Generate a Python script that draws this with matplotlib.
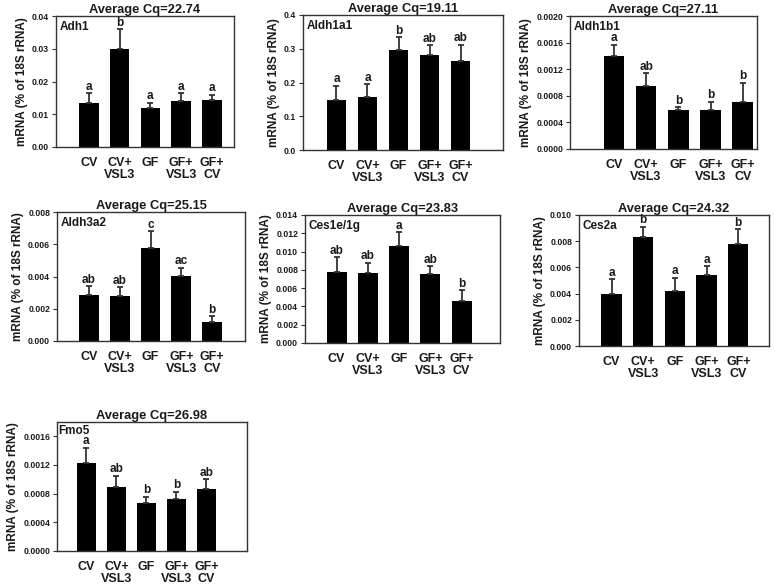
import matplotlib.pyplot as plt
import numpy as np

plt.rcParams['font.family'] = ['Liberation Sans', 'DejaVu Sans']
plt.rcParams['font.weight'] = 'bold'
plt.rcParams['axes.titleweight'] = 'bold'
plt.rcParams['axes.labelweight'] = 'bold'

# --- Datos ---
grupos = ["CV", "CV+\nVSL3", "GF", "GF+\nVSL3", "GF+\nCV"]

genes = ["Adh1", "Aldh1a1", "Aldh1b1", "Aldh3a2", "Ces1e/1g", "Ces2a", "Fmo5"]
cq = ["22.74", "19.11", "27.11", "25.15", "23.83", "24.32", "26.98"]

adh1 = [0.0135, 0.0298, 0.0120, 0.0140, 0.0145]
adh1_err = [0.0029, 0.0062, 0.0015, 0.0025, 0.0015]
aldh1a1 = [0.148, 0.158, 0.297, 0.280, 0.265]
aldh1a1_err = [0.042, 0.037, 0.038, 0.030, 0.047]
aldh1b1 = [0.00140, 0.00094, 0.00058, 0.00059, 0.00070]
aldh1b1_err = [0.00017, 0.00020, 0.00005, 0.00012, 0.00030]
aldh3a2 = [0.00285, 0.00282, 0.00575, 0.00404, 0.00118]
aldh3a2_err = [0.00055, 0.00050, 0.00105, 0.00050, 0.00035]
ces1e = [0.0078, 0.0077, 0.0106, 0.0075, 0.0046]
ces1e_err = [0.0016, 0.0011, 0.0015, 0.0009, 0.0012]
ces2a = [0.0040, 0.0083, 0.0042, 0.0054, 0.0078]
ces2a_err = [0.0011, 0.0008, 0.0010, 0.0007, 0.0011]
fmo5 = [0.00123, 0.00090, 0.00067, 0.00072, 0.00086]
fmo5_err = [0.00021, 0.00015, 0.00009, 0.00011, 0.00014]

letras = [
    ["a", "b", "a", "a", "a"],
    ["a", "a", "b", "ab", "ab"],
    ["a", "ab", "b", "b", "b"],
    ["ab", "ab", "c", "ac", "b"],
    ["ab", "ab", "a", "ab", "b"],
    ["a", "b", "a", "a", "b"],
    ["a", "ab", "b", "b", "ab"],
]

valores = [adh1, aldh1a1, aldh1b1, aldh3a2, ces1e, ces2a, fmo5]
errores = [adh1_err, aldh1a1_err, aldh1b1_err, aldh3a2_err, ces1e_err, ces2a_err, fmo5_err]

# ejes: limite superior, paso de ticks, formato
ymax = [0.04, 0.4, 0.002, 0.008, 0.014, 0.010, 0.0018]
paso = [0.01, 0.1, 0.0004, 0.002, 0.002, 0.002, 0.0004]
formato = ["%.2f", "%.1f", "%.4f", "%.3f", "%.3f", "%.3f", "%.4f"]

# posicion de cada panel en pixeles (izq, arriba, der, abajo)
cajas = [
    (56, 16, 234, 147),
    (303, 15, 503, 150),
    (570, 16, 757, 149),
    (57, 212, 245, 341),
    (305, 215, 500, 343),
    (579, 215, 769, 346),
    (57, 422, 247, 551),
]
xlims = [(-1.07, 4.72), (-1.08, 5.37), (-1.36, 4.44), (-1.04, 5.07),
         (-1.01, 5.23), (-1.03, 4.97), (-0.98, 5.35)]
# donde va el nombre del gen dentro del panel
gen_x = [0.02, 0.02, 0.02, 0.02, 0.02, 0.02, 0.005]
gen_y = [0.96, 0.96, 0.96, 0.96, 0.96, 0.96, 0.975]

W, H = 775, 585
fig = plt.figure(figsize=(W / 100, H / 100), dpi=100)

gris = "#333333"
texto = "#1a1a1a"
for i in range(7):
    l, t, r, b = cajas[i]
    ax = fig.add_axes([l / W, 1 - b / H, (r - l) / W, (b - t) / H])
    x = np.arange(5)
    ax.bar(x, valores[i], width=0.64, color="black")
    ax.errorbar(x, valores[i], yerr=[np.zeros(5), errores[i]], fmt="none",
                ecolor=gris, elinewidth=1.3, capsize=2, capthick=1.3)
    for j in range(5):
        ax.text(x[j], valores[i][j] + errores[i][j] + ymax[i] * 0.003, letras[i][j],
                ha="center", va="bottom", fontsize=8.5, color=texto)
    ax.set_xlim(*xlims[i])
    ax.set_ylim(0, ymax[i])
    ticks = np.arange(0, ymax[i] + paso[i] / 2, paso[i])
    ax.set_yticks(ticks)
    ax.set_yticklabels([formato[i] % v for v in ticks], fontsize=6.2, color=texto)
    ax.set_xticks(x)
    ax.set_xticklabels(grupos, fontsize=9, color=texto, linespacing=1.0)
    ax.tick_params(axis="x", length=0, pad=7)
    ax.tick_params(axis="y", length=3, width=0.8, direction="out", pad=2, color=gris)
    for s in ax.spines.values():
        s.set_color(gris)
        s.set_linewidth(1.0)
    ax.set_title("Average Cq=" + cq[i], fontsize=9.3, pad=1.5, color=texto)
    ax.text(gen_x[i], gen_y[i], genes[i], transform=ax.transAxes, ha="left", va="top",
            fontsize=8.5, color=texto)
    ax.set_ylabel("mRNA (% of 18S rRNA)", fontsize=8.5, color=texto, labelpad=3)

plt.savefig("out.png", dpi=100)
